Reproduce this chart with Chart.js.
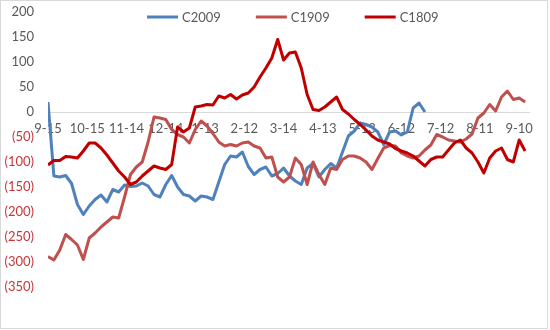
<!DOCTYPE html>
<html>
<head>
<meta charset="utf-8">
<script src="https://cdn.jsdelivr.net/npm/chart.js@4"></script>
<style>
  body { margin: 0; background: #fff; }
</style>
</head>
<body>
<canvas id="spreadChart" width="550" height="330"></canvas>
<script>
// trading-day index of each sample (one sample every 3 trading days)
const days = [0, 3, 6, 9, 12, 15, 18, 21, 24, 27, 30, 33, 36, 39, 42, 45, 48, 51, 54, 57,
    60, 63, 66, 69, 72, 75, 78, 81, 84, 87, 90, 93, 96, 99, 102, 105, 108, 111, 114, 117,
    120, 123, 126, 129, 132, 135, 138, 141, 144, 147, 150, 153, 156, 159, 162, 165, 168, 171, 174, 177,
    180, 183, 186, 189, 192, 195, 198, 201, 204, 207, 210, 213, 216, 219, 222, 225, 228, 231, 234, 237,
    240, 243];

// x axis labels and the trading-day index they sit on
const tickLabels = ['9-15', '10-15', '11-14', '12-14', '1-13', '2-12', '3-14', '4-13', '5-13', '6-12', '7-12', '8-11', '9-10'];
const tickDays = [0, 20, 40, 60, 80, 100, 120, 140, 160, 180, 200, 220, 240];

const c2009 = [20, -128, -130, -127, -143, -185, -205, -188, -175, -166, -180, -155, -160, -146, -149, -148, -142, -148, -165, -170,
    -145, -127, -150, -165, -168, -178, -168, -170, -175, -140, -105, -88, -90, -80, -109, -125, -115, -110, -128, -123,
    -112, -128, -138, -145, -112, -103, -130, -115, -103, -112, -80, -48, -38, -22, -25, -30, -40, -65, -40, -38,
    -46, -40, 8, 18, 0, null, null, null, null, null, null, null, null, null, null, null, null, null, null, null,
    null, null];

const c1909 = [-289, -296, -276, -245, -255, -266, -295, -252, -242, -230, -220, -210, -212, -170, -125, -110, -100, -60, -10, -12,
    -15, -35, -45, -50, -62, -35, -18, -28, -43, -60, -68, -65, -68, -62, -60, -68, -72, -92, -90, -130,
    -140, -130, -92, -105, -145, -100, -125, -145, -112, -115, -95, -88, -88, -92, -100, -115, -93, -72, -67, -68,
    -82, -88, -92, -88, -76, -66, -45, -50, -56, -58, -60, -54, -44, -12, -2, 15, 2, 30, 42, 25,
    28, 20];

const c1809 = [-106, -97, -97, -89, -90, -92, -78, -62, -62, -72, -86, -102, -118, -130, -145, -140, -128, -118, -108, -112,
    -115, -105, -30, -40, -32, 10, 12, 15, 14, 32, 28, 35, 26, 34, 38, 50, 70, 88, 108, 145,
    104, 118, 120, 88, 35, 5, 3, 10, 20, 30, 5, -4, -15, -25, -36, -48, -56, -60, -64, -73,
    -78, -82, -88, -98, -108, -95, -90, -90, -76, -62, -56, -72, -82, -100, -122, -92, -78, -72, -95, -100,
    -56, -78];

const seriesNames = ['C2009', 'C1909', 'C1809'];
const seriesColors = ['#4F81BD', '#C0504D', '#C00000'];

const FONT = 'Lato, "Open Sans", sans-serif';

function points(values) {
    return days.map((d, i) => ({ x: d, y: values[i] }));
}

// legend drawn inside the plot, like the original
const insideLegend = {
    id: 'insideLegend',
    afterDraw(chart) {
        const ctx = chart.ctx;
        ctx.save();
        ctx.font = '13px ' + FONT;
        ctx.textBaseline = 'middle';
        let x = 147;
        const y = 17;
        chart.data.datasets.forEach(ds => {
            ctx.strokeStyle = ds.borderColor;
            ctx.lineWidth = 3;
            ctx.beginPath();
            ctx.moveTo(x, y);
            ctx.lineTo(x + 31, y);
            ctx.stroke();
            ctx.fillStyle = '#595959';
            ctx.fillText(ds.label, x + 35, y + 1);
            x += 35 + ctx.measureText(ds.label).width + 35;
        });
        // chart border
        ctx.strokeStyle = '#D9D9D9';
        ctx.lineWidth = 1;
        ctx.strokeRect(0.5, 0.5, 547, 328);
        ctx.restore();
    }
};

const whiteBg = {
    id: 'whiteBg',
    beforeDraw(chart) {
        const ctx = chart.ctx;
        ctx.save();
        ctx.fillStyle = '#fff';
        ctx.fillRect(0, 0, chart.width, chart.height);
        ctx.restore();
    }
};

const ctx = document.getElementById('spreadChart').getContext('2d');
const spreadChart = new Chart(ctx, {
    type: 'line',
    data: {
        datasets: [
            { label: seriesNames[0], data: points(c2009), borderColor: seriesColors[0], order: 2 },
            { label: seriesNames[1], data: points(c1909), borderColor: seriesColors[1], order: 1 },
            { label: seriesNames[2], data: points(c1809), borderColor: seriesColors[2], order: 0 }
        ]
    },
    options: {
        responsive: false,
        animation: false,
        spanGaps: false,
        layout: { padding: { top: 12, right: 21, bottom: 43, left: 0 } },
        elements: {
            point: { radius: 0 },
            line: { borderWidth: 3, tension: 0, borderJoinStyle: 'round' }
        },
        plugins: {
            legend: { display: false },
            tooltip: { enabled: false }
        },
        scales: {
            x: {
                type: 'linear',
                position: { y: 0 },
                min: 0,
                max: 245,
                grid: { display: false, drawTicks: false },
                border: { color: '#D9D9D9', width: 1 },
                afterBuildTicks: axis => {
                    axis.ticks = tickDays.map(v => ({ value: v }));
                },
                ticks: {
                    autoSkip: false,
                    maxRotation: 0,
                    padding: 9,
                    color: '#595959',
                    font: { family: FONT, size: 13 },
                    callback: v => tickLabels[tickDays.indexOf(v)]
                }
            },
            y: {
                min: -350,
                max: 200,
                afterFit: axis => {
                    axis.width = 48;
                    axis.paddingTop = 0;
                    axis.paddingBottom = 0;
                },
                grid: { display: false, drawTicks: false },
                border: { display: false },
                ticks: {
                    stepSize: 50,
                    padding: 14,
                    font: { family: FONT, size: 13 },
                    color: c => c.tick.value < 0 ? '#C8353A' : '#595959',
                    callback: v => v < 0 ? '(' + (-v) + ')' : v
                }
            }
        }
    },
    plugins: [whiteBg, insideLegend]
});
</script>
</body>
</html>
